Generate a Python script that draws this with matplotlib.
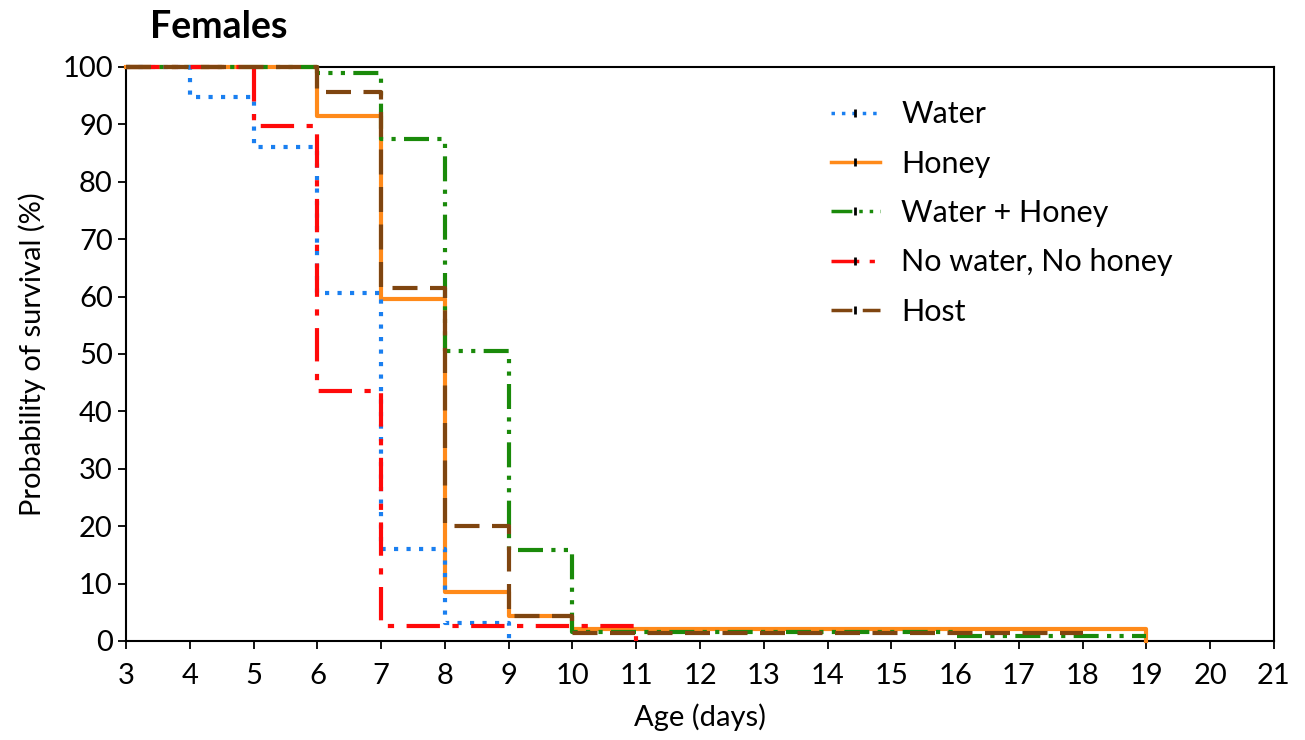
import matplotlib.pyplot as plt
from matplotlib.lines import Line2D

plt.rcParams['font.family'] = ['Lato', 'DejaVu Sans']

# Kaplan-Meier steps (days, survival %)
water_t = [3, 4, 5, 6, 7, 8, 9]
water_s = [100, 94.7, 86.0, 60.7, 16.0, 3.2, 0]
honey_t = [3, 6, 7, 8, 9, 10, 19]
honey_s = [100, 91.4, 59.5, 8.5, 4.3, 2.1, 0]
wh_t = [3, 6, 7, 8, 9, 10, 16, 19]
wh_s = [100, 99.0, 87.5, 50.5, 15.8, 1.6, 0.9, 0.9]
none_t = [3, 5, 6, 7, 11]
none_s = [100, 89.7, 43.6, 2.6, 0]
host_t = [3, 6, 7, 8, 9, 10, 18]
host_s = [100, 95.7, 61.5, 20.0, 4.3, 1.4, 1.4]

labels = ["Water", "Honey", "Water + Honey", "No water, No honey", "Host"]
colors = ["#1a7ff0", "#ff8a1a", "#1a8a0a", "#ff0a0a", "#7f4510"]
styles = [(0, (1, 2)), "-", (0, (6, 2, 1, 2, 1, 2)), (0, (8, 3, 1.5, 3)), (0, (6, 3))]

fig = plt.figure(figsize=(13.05, 7.4), dpi=100)
ax = fig.add_axes([0.0966, 0.1338, 0.8796, 0.7757])

series = [(water_t, water_s), (honey_t, honey_s), (wh_t, wh_s),
          (none_t, none_s), (host_t, host_s)]
order = [1, 2, 0, 3, 4]
for i in order:
    t, s = series[i]
    ax.step(t, s, where="post", color=colors[i], linestyle=styles[i],
            linewidth=3, clip_on=False, zorder=3 + (i == 4))

ax.set_xlim(3, 21)
ax.set_ylim(0, 100)
ax.set_xticks(range(3, 22))
ax.set_yticks(range(0, 101, 10))
ax.tick_params(labelsize=21, length=6, width=1.3, direction="out", colors="black")
ax.tick_params(axis="x", pad=10)
for sp in ax.spines.values():
    sp.set_linewidth(1.5)

ax.set_xlabel("Age (days)", fontsize=21, labelpad=10)
ax.set_ylabel("Probability of survival (%)", fontsize=21, labelpad=12)
fig.text(0.115, 0.963, "Females", fontsize=27, fontweight="bold", va="center")

handles = []
for i in range(5):
    handles.append(Line2D([0], [0], color=colors[i], linestyle=styles[i], linewidth=2.5,
                          marker="|", markersize=6, markeredgecolor="black",
                          markeredgewidth=2))
leg = ax.legend(handles, labels, loc="upper left", bbox_to_anchor=(0.59, 0.99),
                frameon=False, fontsize=22, labelspacing=0.7, handlelength=1.6,
                handletextpad=0.7)

fig.savefig("out.png", dpi=100)
